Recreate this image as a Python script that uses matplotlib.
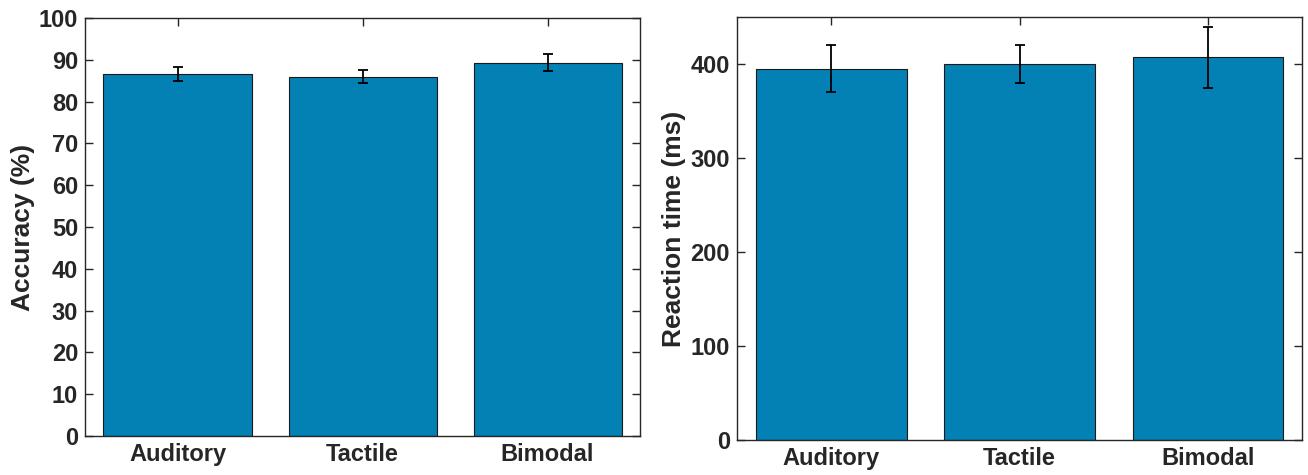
import matplotlib
matplotlib.use("Agg")
import matplotlib.pyplot as plt
import numpy as np

categories = ["Auditory", "Tactile", "Bimodal"]
accuracy = [86.6, 86.0, 89.3]
accuracy_err = [1.6, 1.5, 2.0]
rt = [395, 400, 407]
rt_err = [25, 20, 32]

plt.rcParams['font.family'] = ['Liberation Sans', 'DejaVu Sans']
plt.rcParams['font.weight'] = 'bold'
text_col = '#262626'
bar_col = '#0380B4'

fig = plt.figure(figsize=(13.08, 4.75), dpi=100)
W, H = 1308, 475
ax1 = fig.add_axes([85 / W, 1 - 436 / H, (640 - 85) / W, (436 - 18) / H])
ax2 = fig.add_axes([737 / W, 1 - 440 / H, (1302 - 737) / W, (440 - 17) / H])

x = np.arange(1, len(categories) + 1)

def style(ax, ylim, yticks, ylabel):
    ax.set_xlim(0.5, 3.5)
    ax.set_ylim(*ylim)
    ax.set_yticks(yticks)
    ax.set_xticks(x)
    ax.set_xticklabels(categories)
    ax.set_ylabel(ylabel, fontsize=19, fontweight='bold', color=text_col, labelpad=3)
    ax.tick_params(direction='in', top=True, right=True, length=6, width=1,
                   labelsize=17, colors=text_col, pad=5)
    for lab in ax.get_xticklabels() + ax.get_yticklabels():
        lab.set_fontweight('bold')
    for s in ax.spines.values():
        s.set_color(text_col)
        s.set_linewidth(1.0)

ax1.bar(x, accuracy, width=0.8, color=bar_col, edgecolor='#1a1a1a', linewidth=0.8, zorder=2)
ax1.errorbar(x, accuracy, yerr=accuracy_err, fmt='none', ecolor='black', elinewidth=1.3,
             capsize=3.5, capthick=1.3, zorder=3)
style(ax1, (0, 100), np.arange(0, 101, 10), 'Accuracy (%)')

ax2.bar(x, rt, width=0.8, color=bar_col, edgecolor='#1a1a1a', linewidth=0.8, zorder=2)
ax2.errorbar(x, rt, yerr=rt_err, fmt='none', ecolor='black', elinewidth=1.3,
             capsize=3.5, capthick=1.3, zorder=3)
style(ax2, (0, 450), [0, 100, 200, 300, 400], 'Reaction time (ms)')

fig.savefig('out.png', dpi=100)
